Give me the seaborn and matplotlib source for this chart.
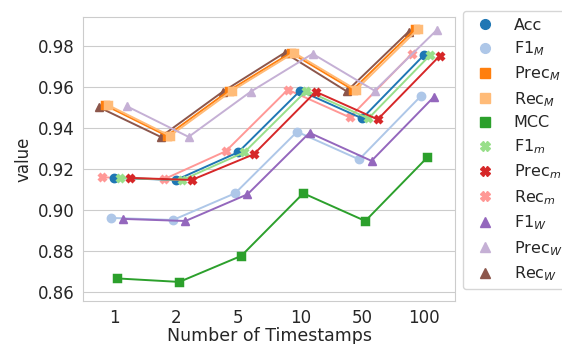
import seaborn as sns
import pandas as pd
import matplotlib.pyplot as plt
from matplotlib.lines import Line2D

# x categories
timestamps = ['1', '2', '5', '10', '50', '100']

# metric values
acc = [0.9155, 0.9145, 0.928, 0.958, 0.9445, 0.9755]
f1_macro = [0.896, 0.895, 0.908, 0.938, 0.9245, 0.9555]
prec_macro = [0.951, 0.936, 0.958, 0.9765, 0.9585, 0.988]
rec_macro = [0.951, 0.936, 0.958, 0.9765, 0.9585, 0.988]
mcc = [0.8665, 0.8648, 0.8775, 0.908, 0.8945, 0.9255]
f1_micro = [0.9155, 0.9145, 0.928, 0.958, 0.9445, 0.9755]
prec_micro = [0.9155, 0.9145, 0.927, 0.9575, 0.944, 0.975]
rec_micro = [0.9158, 0.9148, 0.9285, 0.9585, 0.945, 0.976]
f1_weighted = [0.8955, 0.8945, 0.9075, 0.9375, 0.9238, 0.9548]
prec_weighted = [0.9505, 0.9355, 0.9575, 0.976, 0.958, 0.9875]
rec_weighted = [0.950, 0.9355, 0.9575, 0.9765, 0.9577, 0.9868]

metrics = ['Acc', r'F1$_M$', r'Prec$_M$', r'Rec$_M$', 'MCC', r'F1$_m$',
           r'Prec$_m$', r'Rec$_m$', r'F1$_W$', r'Prec$_W$', r'Rec$_W$']
series = [acc, f1_macro, prec_macro, rec_macro, mcc, f1_micro,
          prec_micro, rec_micro, f1_weighted, prec_weighted, rec_weighted]
marker_list = ['o', 'o', 's', 's', 's', 'X', 'X', 'X', '^', '^', '^']

# order the points are dodged in (left -> right)
dodge_order = [r'Rec$_W$', r'Rec$_m$', r'Prec$_M$', r'Rec$_M$', r'F1$_M$', 'Acc',
               'MCC', r'F1$_m$', r'F1$_W$', r'Prec$_W$', r'Prec$_m$']

df = pd.DataFrame({
    'Number of Timestamps': timestamps * len(metrics),
    'value': [v for s in series for v in s],
    'metric': [m for m in metrics for _ in timestamps],
})

colors = sns.color_palette('tab20', 11)
palette = dict(zip(metrics, colors))
markers = dict(zip(metrics, marker_list))

sns.set_style('whitegrid')
plt.rcParams['font.family'] = ['DejaVu Sans']

fig, ax = plt.subplots(figsize=(5.62, 3.44), dpi=100)
fig.subplots_adjust(left=0.148, right=0.81, top=0.951, bottom=0.125)

sns.pointplot(
    data=df, x='Number of Timestamps', y='value', hue='metric',
    order=timestamps, hue_order=dodge_order, palette=palette,
    markers=[markers[m] for m in dodge_order], dodge=0.5,
    markersize=6, linewidth=1.4, ax=ax,
)

ax.set_ylim(0.8555, 0.994)
ax.set_yticks([0.86, 0.88, 0.90, 0.92, 0.94, 0.96, 0.98])
ax.set_yticklabels([f'{t:.2f}' for t in ax.get_yticks()])
ax.tick_params(labelsize=12, pad=2.5)
ax.set_xlabel('Number of Timestamps', fontsize=12.5, labelpad=0)
ax.set_ylabel('value', fontsize=12)

handles = [Line2D([], [], marker=markers[m], color=palette[m], linestyle='none',
                  markersize=7) for m in metrics]
ax.legend(handles, metrics, loc='upper left', bbox_to_anchor=(1.02, 1.02),
          borderaxespad=0, fontsize=11.5, frameon=True, labelspacing=0.42)

plt.savefig('out.png', dpi=100)
